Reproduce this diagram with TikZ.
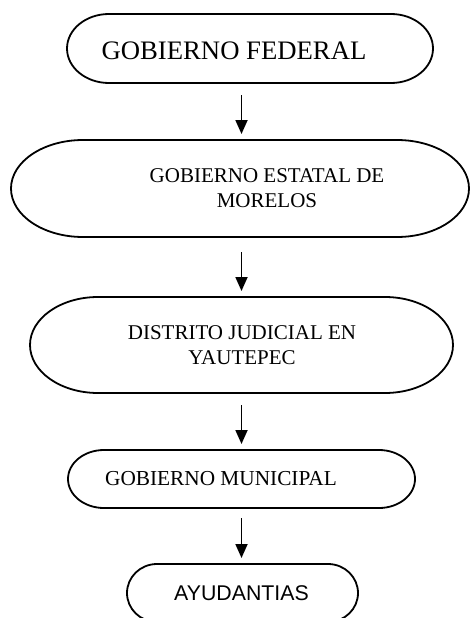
\documentclass[tikz,border=0pt]{standalone}
\usepackage{fontspec}
\setmainfont{Liberation Serif}
\newfontfamily\arialfont{Liberation Sans}
\usetikzlibrary{arrows.meta}
\tikzset{
  boxshape/.style={rectangle, draw=none, inner sep=0pt, outer sep=0pt},
  boxline/.style={draw=black, line width=1.8pt},
  lbl/.style={inner sep=0pt, align=center, text=black},
  arr/.style={draw=black, line width=1.8pt, -{Triangle[width=12pt,length=14pt]}, shorten <=12pt, shorten >=6pt}
}
\newcommand\termbox[3]{\draw[boxline] ([xshift=#2pt]#1.north west) -- ([xshift=-#2pt]#1.north east) arc[start angle=90,end angle=-90,x radius=#2pt,y radius=#3pt] -- ([xshift=#2pt]#1.south west) arc[start angle=270,end angle=90,x radius=#2pt,y radius=#3pt] -- cycle;}
\begin{document}
\begin{tikzpicture}[x=1pt,y=1pt]
\fill[white] (0,0) rectangle (469,-618);
\useasboundingbox (0,0) rectangle (469,-618);
% boxes
\node[boxshape, minimum width=366pt, minimum height=69pt] (b1) at (250,-48.5) {};
\node[boxshape, minimum width=458pt, minimum height=97pt] (b2) at (240,-188.5) {};
\node[boxshape, minimum width=423pt, minimum height=96pt] (b3) at (241.5,-345) {};
\node[boxshape, minimum width=347pt, minimum height=58pt] (b4) at (241.5,-479) {};
\node[boxshape, minimum width=231pt, minimum height=58pt] (b5) at (242.5,-593) {};
\termbox{b1}{42}{34.5}
\termbox{b2}{72}{48.5}
\termbox{b3}{68}{48}
\termbox{b4}{36}{29}
\termbox{b5}{30}{29}
% texts
\node[lbl, font=\fontsize{26.7}{30}\selectfont] (t1) at (234,-51) {GOBIERNO FEDERAL};
\node[lbl, font=\fontsize{21}{25}\selectfont] (t2) at (267,-188) {GOBIERNO ESTATAL DE\\MORELOS};
\node[lbl, font=\fontsize{21}{25}\selectfont] (t3) at (242,-345) {DISTRITO JUDICIAL EN\\YAUTEPEC};
\node[lbl, font=\fontsize{21.3}{25}\selectfont] (t4) at (221,-479) {GOBIERNO MUNICIPAL};
\node[lbl, font=\arialfont\fontsize{21.3}{25}\selectfont] (t5) at (241.5,-593) {AYUDANTIAS};
% arrows
\draw[arr] (b1.south -| b3.center) -- (b2.north -| b3.center);
\draw[arr, shorten <=15pt] (b2.south -| b3.center) -- (b3.north -| b3.center);
\draw[arr] (b3.south -| b3.center) -- (b4.north -| b3.center);
\draw[arr, shorten <=10pt] (b4.south -| b3.center) -- (b5.north -| b3.center);
\end{tikzpicture}
\end{document}
